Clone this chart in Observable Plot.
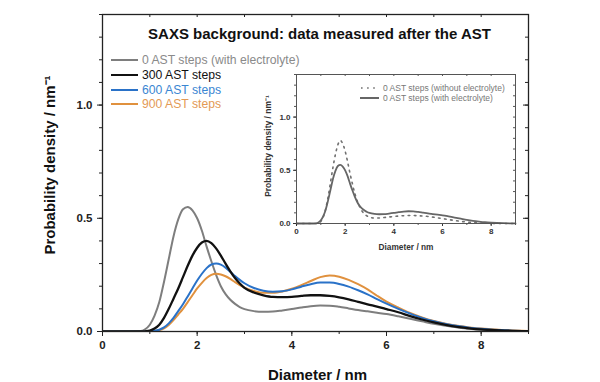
<!DOCTYPE html>
<html><head><meta charset="utf-8">
<script src="https://cdn.jsdelivr.net/npm/d3@7"></script>
<script src="https://cdn.jsdelivr.net/npm/@observablehq/plot@0.6"></script>
<style>
body{margin:0;background:#fff;}
#wrap{position:relative;width:600px;height:382px;overflow:hidden;font-family:"Liberation Sans",Arial,sans-serif;background:#fff;}
#wrap svg{position:absolute;}
.row{position:absolute;display:flex;align-items:center;white-space:nowrap;}
.sw{display:inline-block;}
</style></head><body><div id="wrap"></div>
<script>
// ---- data ----
const diameter = [0, 0.6, 0.8, 0.9, 1.0, 1.1, 1.2, 1.3, 1.4, 1.5, 1.6, 1.7, 1.8, 1.9, 2.0, 2.1, 2.2, 2.3, 2.4, 2.5, 2.6, 2.7, 2.8, 2.9, 3.0, 3.2, 3.4, 3.6, 3.8, 4.0, 4.2, 4.4, 4.6, 4.8, 5.0, 5.2, 5.4, 5.6, 5.8, 6.0, 6.25, 6.5, 6.75, 7.0, 7.25, 7.5, 7.75, 8.0, 8.5, 9.0];
const ast0 = [0, 0, 0.002, 0.01, 0.03, 0.07, 0.13, 0.22, 0.32, 0.42, 0.495, 0.54, 0.55, 0.535, 0.50, 0.445, 0.375, 0.31, 0.25, 0.20, 0.165, 0.14, 0.122, 0.108, 0.099, 0.09, 0.087, 0.088, 0.093, 0.099, 0.106, 0.112, 0.115, 0.114, 0.109, 0.102, 0.095, 0.089, 0.083, 0.077, 0.067, 0.056, 0.045, 0.034, 0.025, 0.018, 0.012, 0.008, 0.003, 0.001];
const ast300 = [0, 0, 0, 0.001, 0.004, 0.013, 0.03, 0.06, 0.10, 0.145, 0.19, 0.24, 0.29, 0.335, 0.37, 0.393, 0.40, 0.39, 0.367, 0.335, 0.30, 0.266, 0.236, 0.212, 0.193, 0.172, 0.16, 0.153, 0.152, 0.153, 0.157, 0.16, 0.16, 0.157, 0.151, 0.142, 0.131, 0.12, 0.11, 0.099, 0.085, 0.068, 0.053, 0.04, 0.029, 0.02, 0.014, 0.009, 0.004, 0.001];
const ast600 = [0, 0, 0, 0, 0.001, 0.003, 0.008, 0.018, 0.036, 0.06, 0.09, 0.12, 0.155, 0.19, 0.225, 0.255, 0.28, 0.296, 0.30, 0.295, 0.282, 0.264, 0.245, 0.228, 0.213, 0.192, 0.18, 0.176, 0.178, 0.186, 0.198, 0.209, 0.216, 0.216, 0.21, 0.198, 0.182, 0.164, 0.143, 0.123, 0.10, 0.079, 0.06, 0.045, 0.033, 0.024, 0.017, 0.012, 0.005, 0.002];
const ast900 = [0, 0, 0, 0, 0.001, 0.002, 0.006, 0.014, 0.029, 0.05, 0.075, 0.10, 0.13, 0.16, 0.19, 0.215, 0.236, 0.25, 0.255, 0.252, 0.244, 0.232, 0.218, 0.205, 0.194, 0.179, 0.171, 0.171, 0.177, 0.189, 0.205, 0.223, 0.24, 0.247, 0.242, 0.228, 0.209, 0.186, 0.158, 0.132, 0.106, 0.082, 0.062, 0.046, 0.034, 0.025, 0.018, 0.013, 0.006, 0.002];
const ast0NoElectrolyte = [0, 0, 0, 0.004, 0.02, 0.06, 0.14, 0.25, 0.39, 0.53, 0.65, 0.74, 0.78, 0.75, 0.68, 0.58, 0.47, 0.37, 0.28, 0.21, 0.155, 0.115, 0.087, 0.07, 0.06, 0.052, 0.052, 0.056, 0.061, 0.066, 0.07, 0.073, 0.075, 0.075, 0.073, 0.07, 0.066, 0.06, 0.053, 0.046, 0.037, 0.028, 0.02, 0.014, 0.009, 0.006, 0.003, 0.002, 0, 0];

const seriesNames = ["0 AST steps (with electrolyte)", "300 AST steps", "600 AST steps", "900 AST steps"];
const seriesValues = [ast0, ast300, ast600, ast900];
const seriesColors = ["#7e7e7e", "#111111", "#2a72c8", "#e0913e"];
const legendTextColors = ["#8a8a8a", "#111111", "#3a86d2", "#e39a55"];
const insetNames = ["0 AST steps (without electrolyte)", "0 AST steps (with electrolyte)"];
const xMajorTicks = [0, 2, 4, 6, 8];
const xMinorTicks = [0, 1, 2, 3, 4, 5, 6, 7, 8, 9];
const yMajorTicks = [0, 0.5, 1.0];
const yMinorTicks = [0, 0.1, 0.2, 0.3, 0.4, 0.5, 0.6, 0.7, 0.8, 0.9, 1.0, 1.1, 1.2, 1.3, 1.4];
const titleText = "SAXS background: data measured after the AST";
const xLabel = "Diameter / nm";
const yLabel = "Probability density / nm\u207B\u00B9";

const rows = (vals) => diameter.map((d, i) => ({d, p: vals[i]}));
const FONT = "Liberation Sans, Arial, sans-serif";
const wrap = document.getElementById("wrap");

// ---- main chart ----
const W = 600, H = 382, mL = 102, mR = 72, mT = 14, mB = 51;
const fw = W - mL - mR, fh = H - mT - mB;
const drawOrder = [0, 3, 2, 1];
const main = Plot.plot({
  width: W, height: H, marginLeft: mL, marginRight: mR, marginTop: mT, marginBottom: mB,
  style: {fontFamily: FONT, background: "transparent", overflow: "visible"},
  x: {domain: [0, 9], label: null},
  y: {domain: [0, 1.4], label: null},
  marks: [
    ...drawOrder.map(i => Plot.line(rows(seriesValues[i]), {x: "d", y: "p", stroke: seriesColors[i], strokeWidth: i === 1 ? 2.3 : 2, curve: "monotone-x", clip: true})),
    Plot.axisX(xMinorTicks, {anchor: "bottom", tickSize: 3, text: null, label: null, color: "#222"}),
    Plot.axisX(xMajorTicks, {anchor: "bottom", tickSize: 5, tickPadding: 4, tickFormat: d => String(d), fontSize: 11.5, fontWeight: "bold", label: null, color: "#222"}),
    Plot.axisY(yMinorTicks, {anchor: "left", tickSize: 3, text: null, label: null, color: "#222"}),
    Plot.axisY(yMajorTicks, {anchor: "left", tickSize: 5, tickPadding: 5, tickFormat: d3.format(".1f"), fontSize: 11.5, fontWeight: "bold", label: null, color: "#222"}),
    Plot.tickX(xMinorTicks, {x: d => d, insetBottom: fh - 3, stroke: "#222"}),
    Plot.tickY(yMinorTicks, {y: d => d, insetLeft: fw - 3, stroke: "#222"}),
    Plot.tickY(yMajorTicks, {y: d => d, insetLeft: fw - 5, stroke: "#222"}),
    Plot.frame({stroke: "#222", strokeWidth: 1.3}),
    Plot.text([titleText], {frameAnchor: "top", textAnchor: "middle", lineAnchor: "middle", dx: 4, dy: 19.5, fontSize: 15, fontWeight: "bold", fill: "#111"}),
    Plot.text([xLabel], {frameAnchor: "bottom", textAnchor: "middle", lineAnchor: "middle", dx: 2, dy: 44, fontSize: 15, fontWeight: "bold", fill: "#111"}),
    Plot.text([yLabel], {frameAnchor: "left", textAnchor: "middle", lineAnchor: "middle", dx: -52, dy: -8, rotate: -90, fontSize: 15, fontWeight: "bold", fill: "#111"})
  ]
});
main.style.left = "0px"; main.style.top = "0px";
wrap.appendChild(main);

// ---- inset chart ----
const IL = 250, IT = 66, IW = 272, IH = 190, imL = 46, imR = 7, imT = 8, imB = 33;
const ifw = IW - imL - imR, ifh = IH - imT - imB;
const inset = Plot.plot({
  width: IW, height: IH, marginLeft: imL, marginRight: imR, marginTop: imT, marginBottom: imB,
  style: {fontFamily: FONT, background: "transparent", overflow: "visible"},
  x: {domain: [0, 9], label: null},
  y: {domain: [0, 1.4], label: null},
  marks: [
    Plot.line(rows(ast0NoElectrolyte), {x: "d", y: "p", stroke: "#707070", strokeWidth: 1.6, strokeDasharray: "1.6 4.5", curve: "monotone-x"}),
    Plot.line(rows(ast0), {x: "d", y: "p", stroke: "#666", strokeWidth: 1.8, curve: "monotone-x"}),
    Plot.axisX(xMinorTicks, {anchor: "bottom", tickSize: 2, text: null, label: null, color: "#555"}),
    Plot.axisX(xMajorTicks, {anchor: "bottom", tickSize: 3, tickPadding: 2, tickFormat: d => String(d), fontSize: 8, fontWeight: "bold", label: null, color: "#333"}),
    Plot.axisY(yMinorTicks, {anchor: "left", tickSize: 2, text: null, label: null, color: "#555"}),
    Plot.axisY(yMajorTicks, {anchor: "left", tickSize: 3, tickPadding: 3, tickFormat: d3.format(".1f"), fontSize: 8, fontWeight: "bold", label: null, color: "#333"}),
    Plot.tickX(xMinorTicks, {x: d => d, insetBottom: ifh - 2, stroke: "#555"}),
    Plot.tickY(yMinorTicks, {y: d => d, insetLeft: ifw - 2, stroke: "#555"}),
    Plot.frame({stroke: "#555", strokeWidth: 1}),
    Plot.text([xLabel], {frameAnchor: "bottom", textAnchor: "middle", lineAnchor: "middle", dy: 24, fontSize: 8.3, fontWeight: "bold", fill: "#333"}),
    Plot.text([yLabel], {frameAnchor: "left", textAnchor: "middle", lineAnchor: "middle", dx: -28, dy: -3, rotate: -90, fontSize: 8.5, fontWeight: "bold", fill: "#333"})
  ]
});
inset.style.left = IL + "px"; inset.style.top = IT + "px";
wrap.appendChild(inset);

// ---- main legend ----
const legendRowsY = [60, 75, 89.5, 104];
seriesNames.forEach((name, i) => {
  const r = document.createElement("div");
  r.className = "row";
  r.style.left = "111px"; r.style.top = (legendRowsY[i] - 8) + "px"; r.style.height = "16px";
  r.innerHTML = `<span class="sw" style="width:27px;height:2px;background:${seriesColors[i]};margin-right:4px"></span><span style="font-size:12.2px;color:${legendTextColors[i]}">${name}</span>`;
  wrap.appendChild(r);
});
// ---- inset legend ----
const insetRowsY = [88, 98];
insetNames.forEach((name, i) => {
  const r = document.createElement("div");
  r.className = "row";
  r.style.left = "360px"; r.style.top = (insetRowsY[i] - 5) + "px"; r.style.height = "10px";
  const sw = i === 0
    ? `<svg width="19" height="4" style="position:static;margin-right:4px"><line x1="1" y1="2" x2="19" y2="2" stroke="#707070" stroke-width="1.6" stroke-dasharray="1.6 4.5"/></svg>`
    : `<span class="sw" style="width:19px;height:2px;background:#666;margin-right:4px"></span>`;
  r.innerHTML = sw + `<span style="font-size:8.5px;color:#777">${name}</span>`;
  wrap.appendChild(r);
});
</script>
</body></html>
